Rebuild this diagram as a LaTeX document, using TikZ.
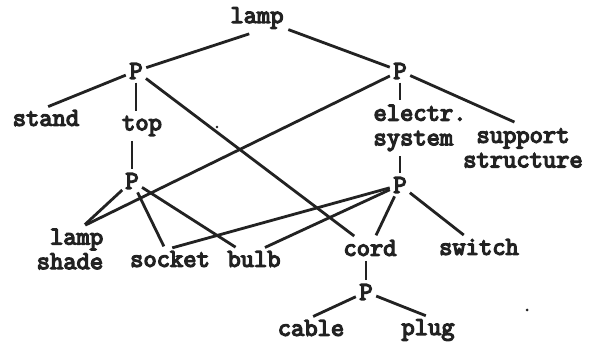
\documentclass[tikz,border=0pt]{standalone}
\usepackage{fontspec}
\newfontfamily\treefont{Latin Modern Mono}[FakeBold=5]
\usepackage{xcolor}
\definecolor{inkblack}{RGB}{34,34,34}
\usetikzlibrary{calc}

\begin{document}
\begin{tikzpicture}[every node/.style={font=\treefont\fontsize{22}{21}\selectfont,text=inkblack,inner sep=2pt},
    part/.style={inner sep=1pt},
    link/.style={draw=inkblack,line width=2.4pt,shorten <=2pt,shorten >=2pt}]

  \useasboundingbox (0,0) rectangle (17.67,10.29);

  %% Top: the lamp and its two parts
  \node (lamp) at (7.71,9.75) {lamp};
  \node[part] (pA) at (4.08,8.16) {P};
  \node[part] (pB) at (12.00,8.16) {P};

  %% Second level
  \node (stand) at (1.38,6.75) {stand};
  \node (top) at (4.26,6.51) {top};
  \node[align=left] (elec) at (12.60,6.45) {electr.\\system};
  \node[align=center] (support) at (15.69,5.85) {support\\structure};
  \node[part] (pC) at (3.96,4.86) {P};
  \node[part] (pD) at (12.00,4.74) {P};

  %% Third level
  \node[align=right] (shade) at (2.10,2.82) {lamp\\shade};
  \node (socket) at (5.10,2.52) {socket};
  \node (bulb) at (7.62,2.52) {bulb};
  \node (cord) at (11.10,2.85) {cord};
  \node (switch) at (14.37,2.88) {switch};
  \node[part] (pE) at (10.98,1.53) {P};
  \node (cable) at (9.33,0.45) {cable};
  \node (plug) at (12.84,0.39) {plug};

  %% Connectors
  \draw[link,shorten <=7pt] (lamp.south) -- (pA);
  \draw[link] (lamp) -- (pB);
  \draw[link] (pA) -- (stand.north);
  \draw[link] (pA.south) -- (pA.south |- top.north);
  \draw[link] (pA) -- (cord);
  \draw[link] (pB) -- (shade.60);
  \draw[link] (pB.south) -- (pB.south |- elec.north);
  \draw[link,shorten >=8pt] (pB) -- (support.north);
  \draw[link] (top.south -| pC) -- (pC.north);
  \draw[link] (pC) -- (shade.60);
  \draw[link] (pC) -- (socket);
  \draw[link] (pC) -- (bulb);
  \draw[link] (elec.south -| pD) -- (pD.north);
  \draw[link] (pD) -- (socket.north);
  \draw[link] (pD) -- (bulb.50);
  \draw[link] (pD) -- (cord);
  \draw[link] (pD) -- (switch);
  \draw[link] (cord.south -| pE) -- (pE.north);
  \draw[link] (pE) -- (cable.north);
  \draw[link] (pE) -- (plug.north);

  %% specks
  \fill[inkblack] (6.51,6.48) circle (0.04);
  \fill[inkblack] (15.81,0.99) circle (0.045);
\end{tikzpicture}
\end{document}
